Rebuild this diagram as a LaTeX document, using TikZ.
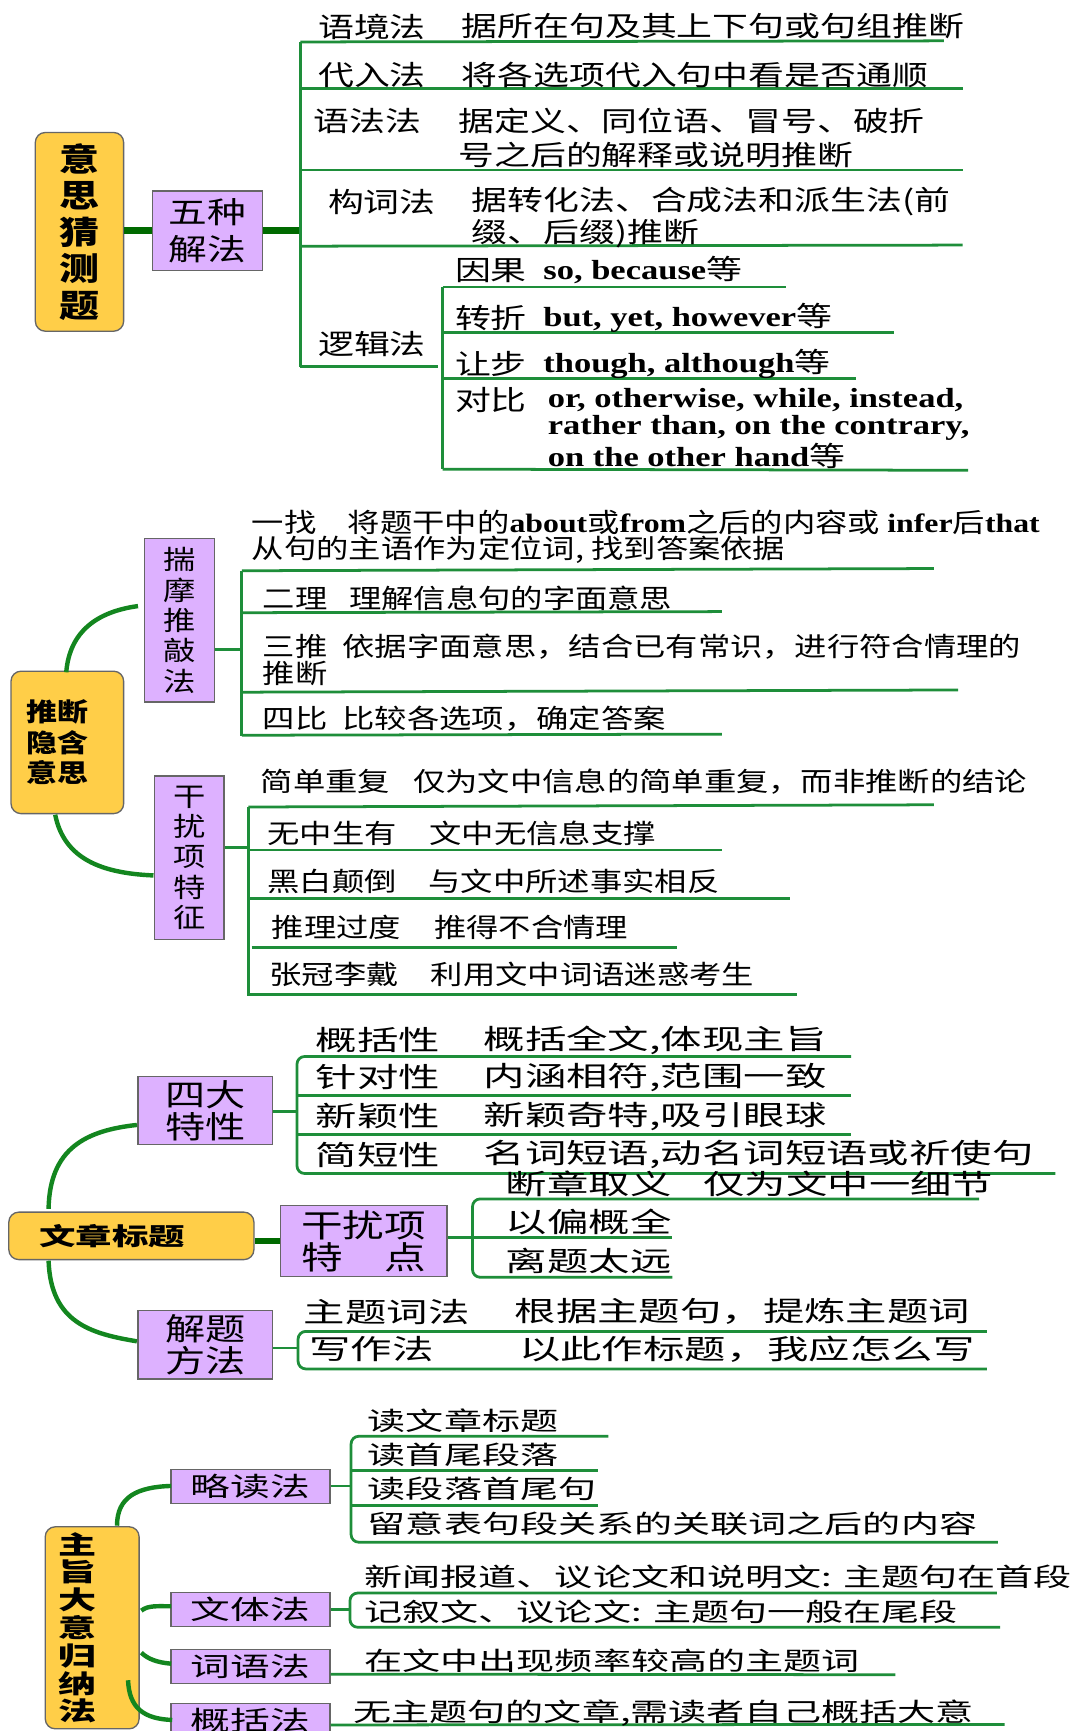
\documentclass[tikz,border=0pt]{standalone}
\usepackage{fontspec}
\setmainfont{Noto Sans CJK SC}
\newfontfamily\fA{Noto Sans CJK SC}[FakeStretch=1.3]
\newfontfamily\fB{Noto Sans CJK SC}[FakeStretch=1.22]
\newfontfamily\fC{Noto Sans CJK SC}[FakeStretch=1.5]
\newfontfamily\fH{Noto Sans CJK SC}[FakeStretch=1.25]
\newfontfamily\eA{Liberation Serif}[FakeStretch=1.25]
\newfontfamily\eB{Liberation Serif}[FakeStretch=1.2]
\newcommand\EA[1]{{\eA\bfseries #1}}
\newcommand\EB[1]{{\eB\bfseries #1}}
\definecolor{yel}{HTML}{FFCE48}
\definecolor{pur}{HTML}{DDB1FF}
\definecolor{lgreen}{HTML}{1E8E3A}
\definecolor{dgreen}{HTML}{006A00}
\definecolor{mgreen}{HTML}{13861F}
\definecolor{bgray}{HTML}{666666}
\tikzset{
 ln/.style={draw=lgreen, line width=2.5pt},
 br/.style={draw=lgreen, line width=2.5pt, rounded corners=7pt},
 tk/.style={draw=dgreen, line width=6pt},
 cv/.style={draw=mgreen, line width=4pt},
 yb/.style={draw=bgray, fill=yel, rounded corners=9pt, line width=1.2pt, inner sep=0pt},
 pb/.style={draw=bgray, fill=pur, line width=1.2pt, inner sep=0pt},
 ta/.style={anchor=west, inner sep=0pt, font=\fA\fontsize{25}{30}\selectfont},
 tb/.style={anchor=west, inner sep=0pt, font=\fB\fontsize{24}{29}\selectfont},
 tc/.style={anchor=west, inner sep=0pt, font=\fC\fontsize{25}{30}\selectfont},
 td/.style={anchor=west, inner sep=0pt, font=\fC\fontsize{23}{28}\selectfont},
}
\begin{document}
\begin{tikzpicture}[x=1pt, y=-1pt]
\path[fill=white, use as bounding box] (0,0) rectangle (982,1568);

% ================= Section 1 =================
\node[yb, minimum width=80pt, minimum height=180pt, align=center,
      font=\fH\bfseries\fontsize{29}{33}\selectfont] (a0) at (72,210) {意\\思\\猜\\测\\题};
\node[pb, minimum width=100pt, minimum height=72pt, align=center,
      font=\fA\fontsize{27}{33}\selectfont] (a1) at (188,209) {五种\\解法};
\coordinate (a1v) at (272,209);
\draw[tk] (a0.east |- a1.west) -- (a1.west);
\draw[tk] (a1.east) -- (a1v);
\draw[ln] (272,38) -- (272,332);
\draw[ln] (272,38) -- (855,37);
\draw[ln] (272,80) -- (872,80);
\draw[ln] (272,154) -- (872,154);
\draw[ln] (272,223) -- (872,222);
\draw[ln] (272,332) -- (397,332);
\draw[ln] (401,260) -- (401,425);
\draw[ln] (401,260) -- (712,260);
\draw[ln] (401,301) -- (810,301);
\draw[ln] (401,343) -- (775,343);
\draw[ln] (401,425) -- (877,426);

\node[ta] (a2) at (288,24) {语境法};
\node[ta] (a2t) at (418,24) {据所在句及其上下句或句组推断};
\node[ta] (a3) at (288,68) {代入法};
\node[ta] (a3t) at (418,68) {将各选项代入句中看是否通顺};
\node[ta] (a4) at (284,110) {语法法};
\node[ta] (a4t) at (415,110) {据定义、同位语、冒号、破折};
\node[ta] (a4u) at (415,140) {号之后的解释或说明推断};
\node[ta] (a5) at (297,183) {构词法};
\node[ta] (a5t) at (427,183) {据转化法、合成法和派生法(前};
\node[ta] (a5u) at (427,212) {缀、后缀)推断};
\node[ta] (a6) at (288,312) {逻辑法};
\node[ta] (a7) at (412,245) {因果};
\node[ta] (a7t) at (492,245) {\EA{so, because}等};
\node[ta] (a8) at (412,288) {转折};
\node[ta] (a8t) at (492,288) {\EA{but, yet, however}等};
\node[ta] (a9) at (412,330) {让步};
\node[ta] (a9t) at (492,330) {\EA{though, although}等};
\node[ta] (a10) at (412,362) {对比};
\node[ta] (a10t) at (496,362) {\EA{or, otherwise, while, instead,}};
\node[ta] (a10u) at (496,388) {\EA{rather than, on the contrary,}};
\node[ta] (a10v) at (496,413) {\EA{on the other hand}等};

% ================= Section 2 =================
\node[yb, minimum width=102pt, minimum height=129pt, text width=74pt, inner xsep=14pt,
      align=left, font=\fB\bfseries\fontsize{23}{27.5}\selectfont] (b0) at (61,672.5) {推断\\隐含\\意思};
\node[pb, minimum width=63pt, minimum height=148pt, align=center,
      font=\fB\fontsize{24}{27.5}\selectfont] (b1) at (162.5,562) {揣\\摩\\推\\敲\\法};
\node[pb, minimum width=63pt, minimum height=148pt, align=center,
      font=\fB\fontsize{24}{27.5}\selectfont] (b2) at (171.5,777) {干\\扰\\项\\特\\征};
\draw[cv] (60,609) .. controls (63,572) and (88,554) .. (125,549);
\draw[cv] (50,738) .. controls (58,778) and (92,791) .. (139,793);
\coordinate (b1v) at (219,588);
\coordinate (b2v) at (225,768);
\draw[ln] (b1.east |- b1v) -- (b1v);
\draw[ln] (b2.east |- b2v) -- (b2v);
\draw[ln] (219,517) -- (219,667);
\draw[ln] (219,517) -- (846,515);
\draw[ln] (219,555) -- (654,554);
\draw[ln] (219,627) -- (868,625);
\draw[ln] (219,666) -- (654,665);
\draw[ln] (225,731) -- (225,902);
\draw[ln] (225,731) -- (846,729);
\draw[ln] (225,770) -- (654,770);
\draw[ln] (225,814) -- (716,814);
\draw[ln] (228,858) -- (613,858);
\draw[ln] (225,901) -- (722,901);

\node[tb] (b3) at (228,473) {一找};
\node[tb] (b3t) at (315,473) {将题干中的\EB{about}或\EB{from}之后的内容或 \EB{infer}后\EB{that}};
\node[tb] (b3u) at (228,498) {从句的主语作为定位词, 找到答案依据};
\node[tb] (b4) at (238,542) {二理};
\node[tb] (b4t) at (316,542) {理解信息句的字面意思};
\node[tb] (b5) at (238,586) {三推};
\node[tb] (b5t) at (310,586) {依据字面意思，结合已有常识，进行符合情理的};
\node[tb] (b5u) at (238,610) {推断};
\node[tb] (b6) at (238,651) {四比};
\node[tb] (b6t) at (310,651) {比较各选项，确定答案};
\node[tb] (b7) at (236,708) {简单重复};
\node[tb] (b7t) at (374,708) {仅为文中信息的简单重复，而非推断的结论};
\node[tb] (b8) at (242,755) {无中生有};
\node[tb] (b8t) at (389,755) {文中无信息支撑};
\node[tb] (b9) at (242,798) {黑白颠倒};
\node[tb] (b9t) at (388,798) {与文中所述事实相反};
\node[tb] (b10) at (246,840) {推理过度};
\node[tb] (b10t) at (393,840) {推得不合情理};
\node[tb] (b11) at (244,883) {张冠李戴};
\node[tb] (b11t) at (390,883) {利用文中词语迷惑考生};

% ================= Section 3 =================
\node[yb, minimum width=222pt, minimum height=43pt, text width=167pt, inner xsep=27.5pt,
      align=left, font=\fC\bfseries\fontsize{22}{26}\selectfont] (c0) at (119,1119.5) {文章标题};
\node[pb, minimum width=122pt, minimum height=62pt, align=center,
      font=\fA\fontsize{28}{29}\selectfont] (c1) at (186,1006) {四大\\特性};
\node[pb, minimum width=151pt, minimum height=64pt, align=left,
      font=\fA\fontsize{29}{29}\selectfont] (c2) at (329.5,1124) {干扰项\\特　点};
\node[pb, minimum width=122pt, minimum height=62pt, align=center,
      font=\fA\fontsize{28}{29}\selectfont] (c3) at (186,1218) {解题\\方法};
\draw[cv] (44,1095) .. controls (45,1040) and (78,1024) .. (124,1019);
\draw[cv] (44,1142) .. controls (46,1198) and (82,1208) .. (124,1215);
\draw[tk, line width=5pt] (c0.east |- c2.west) -- (c2.west);
\coordinate (c1v) at (269,1007);
\coordinate (c2v) at (428,1121);
\coordinate (c3v) at (270,1221);
\draw[ln] (c1.east |- c1v) -- (c1v);
\draw[ln] (c2.east |- c2v) -- (c2v);
\draw[ln] (c3.east |- c3v) -- (c3v);
\draw[br] (771,957) -- (269,957) -- (269,1063) -- (956,1063);
\draw[ln] (269,992) -- (771,992);
\draw[ln] (269,1028) -- (771,1028);
\draw[br] (887,1086) -- (428,1086) -- (428,1157) -- (609,1157);
\draw[ln] (428,1121) -- (609,1121);
\draw[br] (894,1206) -- (270,1206) -- (270,1240) -- (894,1240);

\node[tc] (c4) at (286,942) {概括性};
\node[tc] (c4t) at (438,942) {概括全文,体现主旨};
\node[tc] (c5) at (286,976) {针对性};
\node[tc] (c5t) at (438,976) {内涵相符,范围一致};
\node[tc] (c6) at (286,1011) {新颖性};
\node[tc] (c6t) at (438,1011) {新颖奇特,吸引眼球};
\node[tc] (c7) at (286,1046) {简短性};
\node[tc] (c7t) at (438,1046) {名词短语,动名词短语或祈使句};
\node[tc] (c8) at (458,1072) {断章取义};
\node[tc] (c8t) at (637,1072) {仅为文中一细节};
\node[tc] (c9) at (458,1107) {以偏概全};
\node[tc] (c10) at (458,1142) {离题太远};
\node[tc] (c11) at (275,1188) {主题词法};
\node[tc] (c11t) at (466,1188) {根据主题句，提炼主题词};
\node[tc] (c12) at (280,1222) {写作法};
\node[tc] (c12t) at (470,1222) {以此作标题，我应怎么写};

% ================= Section 4 =================
\node[yb, minimum width=85pt, minimum height=183pt, text width=61pt, inner xsep=12pt,
      align=left, font=\fC\bfseries\fontsize{23}{25.2}\selectfont] (d0) at (83.5,1474.5) {主\\旨\\大\\意\\归\\纳\\法};
\node[pb, minimum width=144pt, minimum height=31pt, font=\fC\fontsize{24}{28}\selectfont] (d1) at (227,1346.5) {略读法};
\node[pb, minimum width=144pt, minimum height=31pt, font=\fC\fontsize{24}{28}\selectfont] (d2) at (227,1458) {文体法};
\node[pb, minimum width=144pt, minimum height=31pt, font=\fC\fontsize{24}{28}\selectfont] (d3) at (227,1509.5) {词语法};
\node[pb, minimum width=144pt, minimum height=31pt, font=\fC\fontsize{24}{28}\selectfont] (d4) at (227,1558.5) {概括法};
\draw[cv] (106,1382) .. controls (106,1356) and (124,1347) .. (155,1346);
\draw[cv] (128,1459) .. controls (134,1454) and (143,1455) .. (155,1455);
\draw[cv] (128,1497) .. controls (134,1503) and (143,1506) .. (155,1507);
\draw[cv] (116,1522) .. controls (117,1547) and (130,1557) .. (156,1558);
\coordinate (d1v) at (318,1346);
\coordinate (d2v) at (317,1458);
\draw[ln] (d1.east |- d1v) -- (d1v);
\draw[ln] (d2.east |- d2v) -- (d2v);
\draw[br] (551,1301) -- (318,1301) -- (318,1397) -- (904,1397);
\draw[ln] (318,1332) -- (542,1332);
\draw[ln] (318,1364) -- (542,1364);
\draw[br] (903,1443) -- (317,1443) -- (317,1474) -- (906,1474);
\draw[ln] ([yshift=-7pt]d3.east) -- (811,1517);
\draw[ln] ([yshift=-4pt]d4.east) -- (910,1562);

\node[td] (d5) at (333,1287) {读文章标题};
\node[td] (d6) at (333,1318) {读首尾段落};
\node[td] (d7) at (333,1349) {读段落首尾句};
\node[td] (d8) at (333,1380) {留意表句段关系的关联词之后的内容};
\node[td] (d9) at (330,1428) {新闻报道、议论文和说明文: 主题句在首段};
\node[td] (d10) at (330,1460) {记叙文、议论文: 主题句一般在尾段};
\node[td] (d11) at (330,1504) {在文中出现频率较高的主题词};
\node[td] (d12) at (320,1552) {无主题句的文章,需读者自己概括大意};
\end{tikzpicture}
\end{document}
